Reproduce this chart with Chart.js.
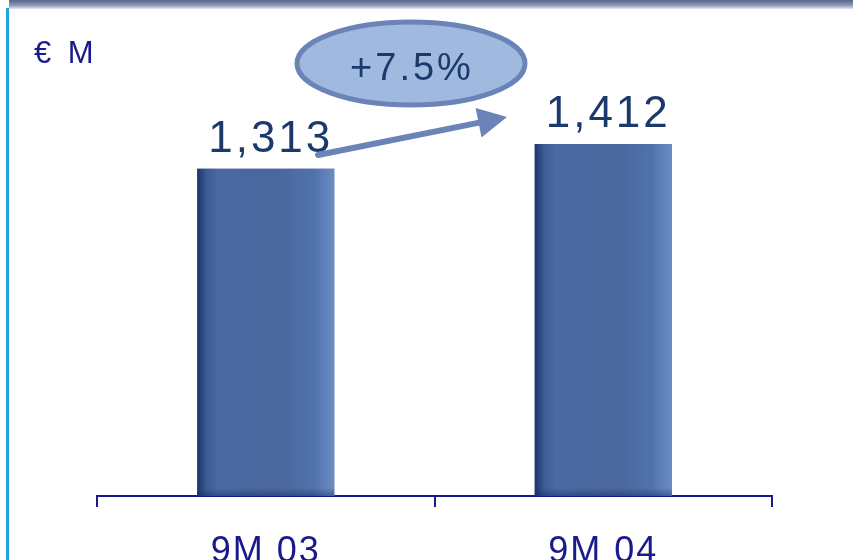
<!DOCTYPE html>
<html>
<head>
<meta charset="utf-8">
<script src="https://cdn.jsdelivr.net/npm/chart.js@4.4.1/dist/chart.umd.min.js"></script>
<style>
  html, body { margin: 0; padding: 0; background: #fff; }
  #wrap { width: 853px; height: 560px; overflow: hidden; }
</style>
</head>
<body>
<div id="wrap"><canvas id="salesChart" width="853" height="560"></canvas></div>
<script>
// データ
const categories = ['9M 03', '9M 04'];
const values = [1313, 1412];
const unitLabel = '€ M';

const NAVY = '#1a1a8c';
const LABEL_BLUE = '#1b3a6b';
const ACCENT = '#6a84b8';

const ctx = document.getElementById('salesChart').getContext('2d');

// 成長率
function growthText() {
    const g = (values[1] / values[0] - 1) * 100;
    return '+' + g.toFixed(1) + '%';
}

// 背景の飾り（上の帯と左の線）
const framePlugin = {
    id: 'frame',
    beforeDraw(chart) {
        const c = chart.ctx;
        c.save();
        const band = c.createLinearGradient(0, 0, 0, 9);
        band.addColorStop(0, '#55658a');
        band.addColorStop(0.6, '#8e9ab4');
        band.addColorStop(1, '#e4e8ef');
        c.fillStyle = band;
        c.fillRect(9, 0, chart.width - 9, 9);
        c.fillStyle = '#22a4d8';
        c.fillRect(6, 8, 3, chart.height - 8);
        c.restore();
        // 目盛りラベルの字間
        chart.ctx.letterSpacing = '2px';
    }
};

// バーのグラデーションと数値ラベル
const barPlugin = {
    id: 'barStyle',
    afterDatasetsDraw(chart) {
        const c = chart.ctx;
        const meta = chart.getDatasetMeta(0);
        meta.data.forEach((bar, i) => {
            const left = bar.x - bar.width / 2;
            const right = bar.x + bar.width / 2;
            const top = bar.y;
            const bottom = bar.base;
            c.save();
            const g = c.createLinearGradient(left, 0, right, 0);
            g.addColorStop(0, '#1c3668');
            g.addColorStop(0.07, '#3d5c96');
            g.addColorStop(0.15, '#4a69a2');
            g.addColorStop(0.6, '#4a679e');
            g.addColorStop(0.85, '#5072aa');
            g.addColorStop(1, '#6c8cc4');
            c.fillStyle = g;
            c.fillRect(left, top, right - left, bottom - top);
            // 下の影
            const s = c.createLinearGradient(0, bottom - 8, 0, bottom);
            s.addColorStop(0, 'rgba(20,40,90,0)');
            s.addColorStop(1, 'rgba(20,40,90,0.45)');
            c.fillStyle = s;
            c.fillRect(left, bottom - 8, right - left, 8);

            // 数値
            c.fillStyle = LABEL_BLUE;
            c.font = '44px "Liberation Sans", Arial, sans-serif';
            c.letterSpacing = '3px';
            c.textAlign = 'center';
            c.textBaseline = 'alphabetic';
            c.fillText(values[i].toLocaleString('en-US'), bar.x + 5, top - 17);
            c.restore();
        });
    },
    afterDraw(chart) {
        const c = chart.ctx;
        c.save();
        // 単位
        c.fillStyle = NAVY;
        c.font = '31px "Liberation Sans", Arial, sans-serif';
        c.letterSpacing = '4px';
        c.textAlign = 'left';
        c.textBaseline = 'alphabetic';
        c.fillText(unitLabel, 34, 63);

        // 矢印
        const x0 = 318, y0 = 155, x1 = 507, y1 = 117;
        const dx = x1 - x0, dy = y1 - y0;
        const len = Math.hypot(dx, dy);
        const ux = dx / len, uy = dy / len;
        const headLen = 29, headHalf = 15;
        const bx = x1 - ux * headLen, by = y1 - uy * headLen;
        c.letterSpacing = '0px';
        c.strokeStyle = ACCENT;
        c.lineWidth = 6;
        c.lineCap = 'round';
        c.beginPath();
        c.moveTo(x0, y0);
        c.lineTo(bx + ux * 2, by + uy * 2);
        c.stroke();
        c.fillStyle = ACCENT;
        c.beginPath();
        c.moveTo(x1, y1);
        c.lineTo(bx - uy * headHalf, by + ux * headHalf);
        c.lineTo(bx + uy * headHalf, by - ux * headHalf);
        c.closePath();
        c.fill();

        // 楕円
        c.beginPath();
        c.ellipse(411, 63.5, 114, 41.5, 0, 0, Math.PI * 2);
        c.fillStyle = '#a0badf';
        c.fill();
        c.lineWidth = 5;
        c.strokeStyle = ACCENT;
        c.stroke();

        c.fillStyle = LABEL_BLUE;
        c.font = '38px "Liberation Sans", Arial, sans-serif';
        c.letterSpacing = '3px';
        c.textAlign = 'center';
        c.fillText(growthText(), 412, 80);
        c.restore();
    }
};

const salesChart = new Chart(ctx, {
    type: 'bar',
    data: {
        labels: categories,
        datasets: [{
            data: values,
            backgroundColor: '#4a679e',
            borderWidth: 0,
            barPercentage: 0.406,
            categoryPercentage: 1.0
        }]
    },
    options: {
        responsive: false,
        animation: false,
        layout: { padding: { left: 97, right: 81, top: 0, bottom: 0 } },
        plugins: {
            legend: { display: false },
            tooltip: { enabled: false }
        },
        scales: {
            x: {
                offset: true,
                grid: {
                    offset: true,
                    drawOnChartArea: false,
                    color: NAVY,
                    lineWidth: 2,
                    tickLength: 11
                },
                border: { display: true, color: NAVY, width: 2 },
                ticks: {
                    color: NAVY,
                    padding: 23,
                    font: { family: '"Liberation Sans", Arial, sans-serif', size: 36 }
                },
                afterFit(scale) { scale.height = 64; }
            },
            y: {
                display: false,
                min: 0,
                max: 1990
            }
        }
    },
    plugins: [framePlugin, barPlugin]
});
</script>
</body>
</html>
